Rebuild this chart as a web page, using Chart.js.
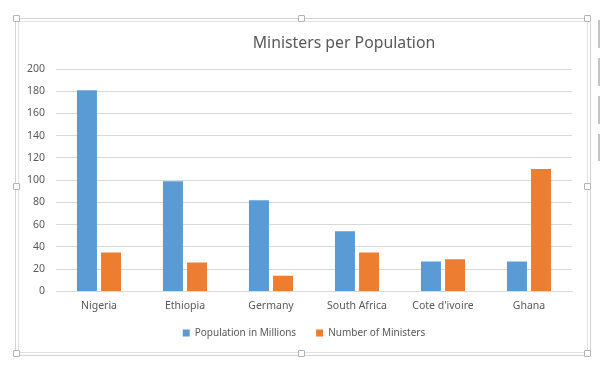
<!DOCTYPE html>
<html>
<head>
<meta charset="utf-8">
<script src="https://cdn.jsdelivr.net/npm/chart.js@4/dist/chart.umd.min.js"></script>
<style>
  html, body { margin: 0; padding: 0; background: #fff; }
  #wrap { position: relative; width: 600px; height: 383px; }
  .frame { position: absolute; pointer-events: none; }
  .handle { position: absolute; width: 5px; height: 5px; background: #fff; border: 1px solid #b4b4b4; border-radius: 1px; }
  .side { position: absolute; left: 598px; width: 2px; background: #c4c4c4; }
</style>
</head>
<body>
<div id="wrap">
  <canvas id="ministersChart" width="600" height="383"></canvas>
  <div class="frame" style="left:15px;top:18px;width:574px;height:336px;border:1px solid #d4d4d4;"></div>
  <div class="frame" style="left:18px;top:21px;width:568px;height:330px;border:1px solid #e2e2e2;"></div>
  <div class="handle" style="left:13px;top:15px;"></div>
  <div class="handle" style="left:298px;top:15px;"></div>
  <div class="handle" style="left:584px;top:15px;"></div>
  <div class="handle" style="left:13px;top:183px;"></div>
  <div class="handle" style="left:584px;top:183px;"></div>
  <div class="handle" style="left:13px;top:350px;"></div>
  <div class="handle" style="left:298px;top:350px;"></div>
  <div class="handle" style="left:584px;top:350px;"></div>
  <div class="side" style="top:20px;height:28px;"></div>
  <div class="side" style="top:58px;height:28px;"></div>
  <div class="side" style="top:96px;height:28px;"></div>
  <div class="side" style="top:134px;height:27px;"></div>
</div>
<script>
const countries = ['Nigeria', 'Ethiopia', 'Germany', 'South Africa', 'Cote d\'ivoire', 'Ghana'];
const population = [181, 99, 82, 54, 27, 27];
const ministers = [35, 26, 14, 35, 29, 110];
const yTicks = [0, 20, 40, 60, 80, 100, 120, 140, 160, 180, 200];

const textGray = '#595959';
const font = 'Noto Sans, Open Sans, sans-serif';

// Excel puts the title and legend a bit off the default spots
const offsetPlugin = {
    id: 'offsetTitle',
    afterLayout(chart) {
        const lg = chart.legend;
        lg.left += 18;
        lg.right += 18;
        lg.top -= 12;
        lg.bottom -= 12;
    },
    afterDraw(chart) {
        const ctx = chart.ctx;
        ctx.save();
        ctx.font = '15.8px ' + font;
        ctx.fillStyle = textGray;
        ctx.textAlign = 'center';
        ctx.textBaseline = 'alphabetic';
        ctx.fillText('Ministers per Population', 344, 48);
        ctx.restore();
    }
};

const ctx = document.getElementById('ministersChart').getContext('2d');
const ministersChart = new Chart(ctx, {
    type: 'bar',
    data: {
        labels: countries,
        datasets: [{
            label: 'Population in Millions',
            data: population,
            backgroundColor: '#5B9BD5',
            categoryPercentage: 0.56,
            barPercentage: 0.83
        }, {
            label: 'Number of Ministers',
            data: ministers,
            backgroundColor: '#ED7D31',
            categoryPercentage: 0.56,
            barPercentage: 0.83
        }]
    },
    options: {
        responsive: false,
        animation: false,
        layout: { padding: { left: 0, right: 28, top: 69, bottom: 23 } },
        scales: {
            x: {
                grid: { display: false, drawTicks: false },
                border: { color: '#d9d9d9' },
                ticks: { color: textGray, font: { family: font, size: 10.5 }, padding: 8 }
            },
            y: {
                min: 0,
                max: 200,
                afterBuildTicks(scale) { scale.ticks = yTicks.map(v => ({ value: v })); },
                grid: { color: '#d9d9d9', drawTicks: false },
                border: { display: false },
                ticks: { color: textGray, font: { family: font, size: 10.5 }, padding: 11 },
                afterFit(scale) { scale.width = 56; }
            }
        },
        plugins: {
            title: { display: false },
            tooltip: { enabled: false },
            legend: {
                position: 'bottom',
                labels: {
                    boxWidth: 7,
                    boxHeight: 7,
                    padding: 20,
                    color: textGray,
                    font: { family: font, size: 10 }
                }
            }
        }
    },
    plugins: [offsetPlugin]
});
</script>
</body>
</html>
